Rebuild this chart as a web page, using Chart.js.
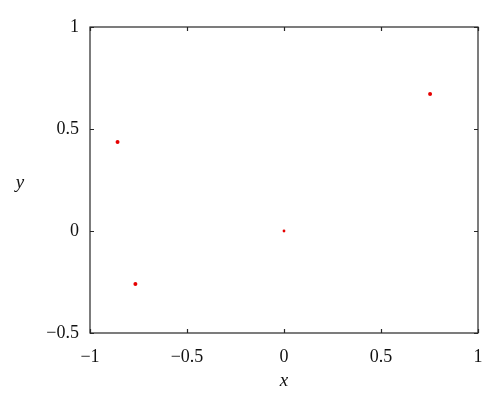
<!DOCTYPE html>
<html>
<head>
<meta charset="utf-8">
<script src="https://cdn.jsdelivr.net/npm/chart.js@4/dist/chart.umd.min.js"></script>
<style>
  html, body { margin: 0; padding: 0; background: #fff; }
  #wrap { width: 500px; height: 408px; position: relative; }
</style>
</head>
<body>
<div id="wrap"><canvas id="myChart"></canvas></div>
<script>
// values
const xValues = [-0.858, -0.766, 0, 0.753];
const yValues = [0.436, -0.26, 0, 0.672];
const xTicks = [-1, -0.5, 0, 0.5, 1];
const yTicks = [-0.5, 0, 0.5, 1];

const serif = '"Liberation Serif", "DejaVu Serif", serif';

function fmt(v) {
    return String(v).replace('-', '\u2212');
}

// MATLAB-ish box with inward ticks + axis titles
const boxPlugin = {
    id: 'box',
    afterDraw(chart) {
        let ctx = chart.ctx;
        let a = chart.chartArea;
        let xs = chart.scales.x, ys = chart.scales.y;
        ctx.save();
        ctx.strokeStyle = '#262626';
        ctx.lineWidth = 1.2;
        ctx.strokeRect(a.left, a.top, a.right - a.left, a.bottom - a.top);
        ctx.beginPath();
        xTicks.forEach(t => {
            let px = Math.round(xs.getPixelForValue(t)) + 0.5;
            ctx.moveTo(px, a.bottom); ctx.lineTo(px, a.bottom - 4);
            ctx.moveTo(px, a.top); ctx.lineTo(px, a.top + 4);
        });
        yTicks.forEach(t => {
            let py = Math.round(ys.getPixelForValue(t)) + 0.5;
            ctx.moveTo(a.left, py); ctx.lineTo(a.left + 4, py);
            ctx.moveTo(a.right, py); ctx.lineTo(a.right - 4, py);
        });
        ctx.stroke();

        ctx.fillStyle = '#111';
        ctx.font = 'italic 19px ' + serif;
        ctx.textAlign = 'center';
        ctx.textBaseline = 'middle';
        ctx.fillText('x', (a.left + a.right) / 2, 381);
        ctx.fillText('y', 20, 183);
        ctx.restore();
    }
};

let canvas = document.getElementById("myChart");

var myChart = new Chart(canvas, {
    type: 'scatter',
    data: {
        datasets: [{
            data: xValues.map((x, i) => ({ x: x, y: yValues[i] })),
            backgroundColor: 'rgb(230, 0, 0)',
            borderColor: 'rgb(230, 0, 0)',
            pointRadius: [2, 2, 1.4, 2],
            borderWidth: 0
        }]
    },
    options: {
        responsive: true,
        maintainAspectRatio: false,
        animation: false,
        layout: { padding: { top: 27, right: 22, left: 0, bottom: 0 } },
        plugins: {
            legend: { display: false },
            tooltip: { enabled: false }
        },
        scales: {
            x: {
                type: 'linear',
                min: -1, max: 1,
                afterFit(scale) { scale.height = 75; },
                afterBuildTicks(scale) { scale.ticks = xTicks.map(v => ({ value: v })); },
                grid: { display: false },
                border: { display: false },
                ticks: {
                    padding: 5,
                    color: '#111',
                    font: { family: serif, size: 18 },
                    maxRotation: 0,
                    callback: v => fmt(v)
                }
            },
            y: {
                type: 'linear',
                min: -0.5, max: 1,
                afterFit(scale) { scale.width = 90; },
                afterBuildTicks(scale) { scale.ticks = yTicks.map(v => ({ value: v })); },
                grid: { display: false },
                border: { display: false },
                ticks: {
                    padding: 3,
                    color: '#111',
                    font: { family: serif, size: 18 },
                    callback: v => fmt(v)
                }
            }
        }
    },
    plugins: [boxPlugin]
});
</script>
</body>
</html>
